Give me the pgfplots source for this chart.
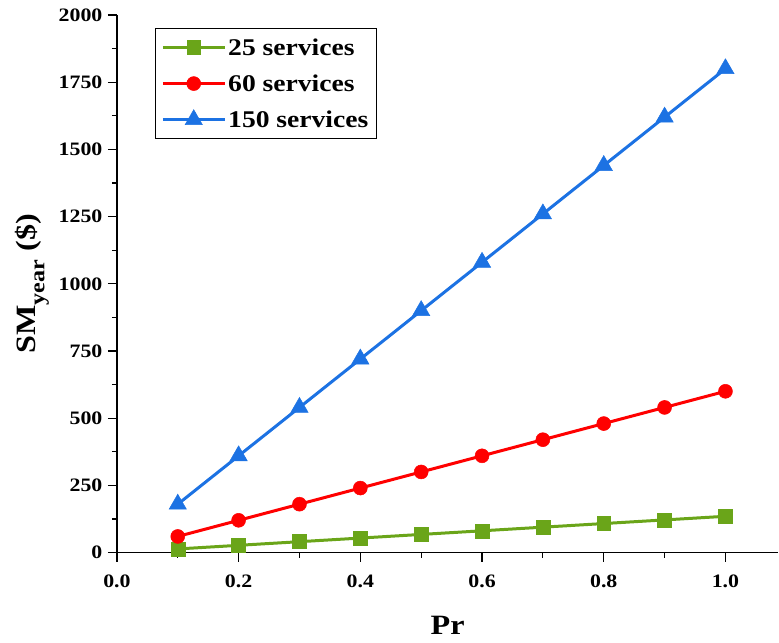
\documentclass[border=0pt]{standalone}
\usepackage{fontspec}
\setmainfont{Liberation Serif}[FakeStretch=1.15]
\usepackage{pgfplots}
\pgfplotsset{compat=1.18}
\definecolor{cgreen}{RGB}{106,165,25}
\definecolor{cred}{RGB}{255,0,0}
\definecolor{cblue}{RGB}{28,114,227}
\begin{document}
\begin{tikzpicture}
\begin{axis}[
  scale only axis,
  width=662pt, height=538pt,
  xmin=0, xmax=1.087, ymin=0, ymax=2000,
  axis x line*=bottom, axis y line*=left,
  axis line style={line width=1.2pt},
  xtick={0,0.2,0.4,0.6,0.8,1.0},
  ytick={0,250,500,750,1000,1250,1500,1750,2000},
  minor x tick num=1, minor y tick num=1,
  tick align=outside,
  major tick length=9pt, minor tick length=5pt,
  every tick/.style={black, line width=1.2pt},
  /pgf/number format/assume math mode=true,
  xticklabel style={/pgf/number format/fixed, /pgf/number format/fixed zerofill, /pgf/number format/precision=1, yshift=-10pt},
  yticklabel style={/pgf/number format/set thousands separator={}, xshift=-2pt},
  tick label style={font=\fontsize{19}{23}\selectfont\bfseries},
  xlabel={Pr},
  ylabel={SM\raisebox{-0.3em}{\fontsize{21}{21}\selectfont year} (\$)},
  xlabel style={at={(axis description cs:0.5,-0.1357)}, anchor=center, font=\fontsize{28}{32}\selectfont\bfseries},
  ylabel style={at={(axis description cs:-0.128,0.5)}, anchor=center, font=\fontsize{28}{32}\selectfont\bfseries},
  legend style={at={(0.0574,0.9758)}, anchor=north west, draw=black, line width=0.8pt,
    font=\fontsize{24}{28}\selectfont\bfseries, row sep=14pt, inner xsep=6pt, inner ysep=8pt},
  legend cell align=left,
  legend image code/.code={\draw[mark repeat=2,mark phase=2] plot coordinates {(0pt,0pt) (31pt,0pt) (62pt,0pt)};},
]
\addplot[color=cgreen, line width=3pt, mark=square*, mark size=7pt, mark options={solid, line width=0.5pt}]
  coordinates {(0.1,13.5) (0.2,27) (0.3,40.5) (0.4,54) (0.5,67.5) (0.6,81) (0.7,94.5) (0.8,108) (0.9,121.5) (1.0,135)};
\addlegendentry{25 services}
\addplot[color=cred, line width=3pt, mark=*, mark size=7pt, mark options={solid, line width=0.5pt}]
  coordinates {(0.1,60) (0.2,120) (0.3,180) (0.4,240) (0.5,300) (0.6,360) (0.7,420) (0.8,480) (0.9,540) (1.0,600)};
\addlegendentry{60 services}
\addplot[color=cblue, line width=3pt, mark=triangle*, mark size=10pt, mark options={solid, line width=0.5pt}]
  coordinates {(0.1,180) (0.2,360) (0.3,540) (0.4,720) (0.5,900) (0.6,1080) (0.7,1260) (0.8,1440) (0.9,1620) (1.0,1800)};
\addlegendentry{150 services}
\end{axis}
\path[use as bounding box] (-117pt,-90pt) rectangle (662pt,553pt);
\end{tikzpicture}
\end{document}
